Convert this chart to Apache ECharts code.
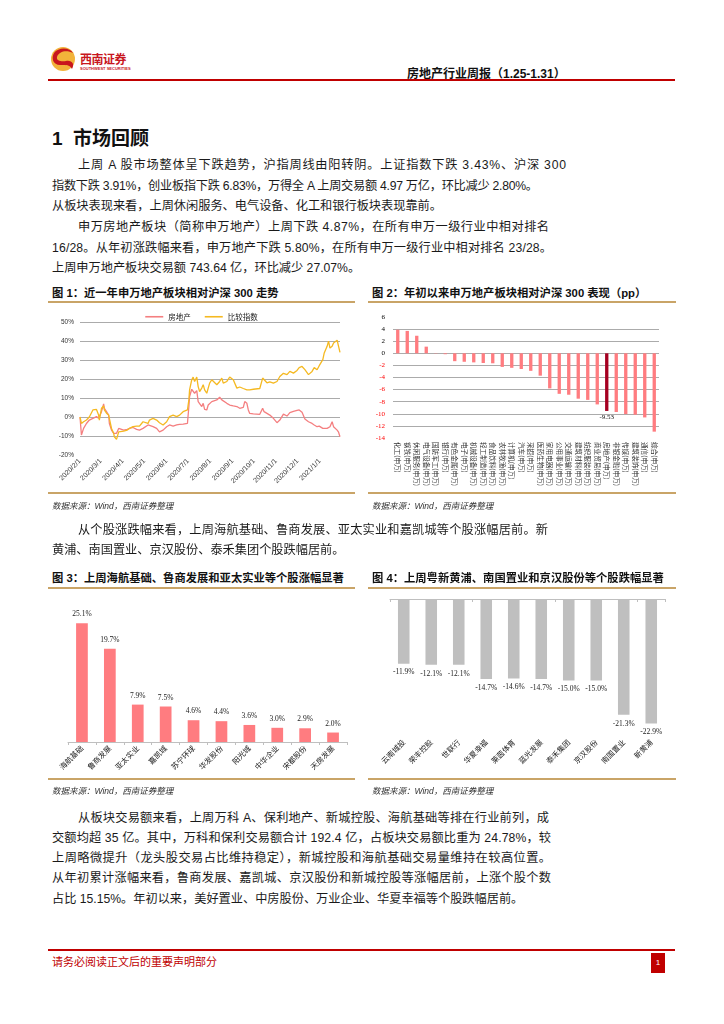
<!DOCTYPE html>
<html><head><meta charset="utf-8">
<script src="https://cdn.jsdelivr.net/npm/echarts@6/dist/echarts.min.js"></script>
<style>
body{margin:0;background:#fff;width:724px;height:1024px;position:relative;overflow:hidden;font-family:"Liberation Sans","Noto Sans CJK SC",sans-serif;color:#1a1a1a;}
.abs{position:absolute;white-space:nowrap;}
.ln{position:absolute;font-size:12.2px;height:16px;line-height:16px;white-space:nowrap;}
.ft{position:absolute;font-size:11.3px;font-weight:bold;white-space:nowrap;color:#111;}
.src{position:absolute;font-size:8.5px;font-style:italic;white-space:nowrap;color:#333;}
.tan{position:absolute;height:2px;background:#C9A467;}
.chart{position:absolute;}
</style></head>
<body>
<!-- header -->
<svg class="abs" style="left:50px;top:44px" width="28" height="30" viewBox="0 0 28 30">
  <circle cx="13" cy="15" r="12" fill="#F2B33A"/>
  <path d="M4 9 C8 3,20 3,23 9 C17 6,9 7,7 13 C6 17,12 18,16 17 C22 16,25 20,22 25 C20 20,14 21,10 21 C3 21,1 14,4 9Z" fill="#C8161D"/>
</svg>
<div class="abs" style="left:80px;top:50px;font-size:12px;font-weight:bold;color:#C8161D;font-family:'Noto Sans CJK SC';letter-spacing:-0.5px">西南证券</div>
<div class="abs" style="left:80px;top:66px;font-size:4px;color:#C8161D;font-weight:bold">SOUTHWEST SECURITIES</div>
<div class="abs" style="left:407px;top:64px;font-size:12px;font-weight:bold;color:#111">房地产行业周报（1.25-1.31）</div>
<div class="abs" style="left:48px;top:79px;width:627px;height:2px;background:#C00000"></div>

<div class="abs" style="left:52px;top:123px;font-size:19px;font-weight:bold;color:#111">1&nbsp;&nbsp;市场回顾</div>

<div class="ln fit" data-w="488" style="left:78px;top:157px">上周 A 股市场整体呈下跌趋势，沪指周线由阳转阴。上证指数下跌 3.43%、沪深 300</div>
<div class="ln fit" data-w="486" style="left:52px;top:178px">指数下跌 3.91%，创业板指下跌 6.83%，万得全 A 上周交易额 4.97 万亿，环比减少 2.80%。</div>
<div class="ln" style="left:52px;top:198px">从板块表现来看，上周休闲服务、电气设备、化工和银行板块表现靠前。</div>

<div class="ln fit" data-w="471" style="left:78px;top:219px">申万房地产板块（简称申万地产）上周下跌 4.87%，在所有申万一级行业中相对排名</div>
<div class="ln fit" data-w="500" style="left:52px;top:240px">16/28。从年初涨跌幅来看，申万地产下跌 5.80%，在所有申万一级行业中相对排名 23/28。</div>
<div class="ln" style="left:52px;top:260px">上周申万地产板块交易额 743.64 亿，环比减少 27.07%。</div>

<!-- fig 1/2 titles -->
<div class="ft" style="left:52px;top:284px">图 1：近一年申万地产板块相对沪深 300 走势</div>
<div class="ft" style="left:372px;top:284px">图 2：年初以来申万地产板块相对沪深 300 表现（pp）</div>
<div class="tan" style="left:48px;top:301px;width:307px"></div>
<div class="tan" style="left:368px;top:301px;width:308px"></div>
<div id="c1" class="chart" style="left:48px;top:303px;width:307px;height:190px"></div>
<div id="c2" class="chart" style="left:368px;top:303px;width:308px;height:190px"></div>
<div class="tan" style="left:48px;top:492px;width:307px"></div>
<div class="tan" style="left:368px;top:492px;width:308px"></div>
<div class="src" style="left:52px;top:499px">数据来源：Wind，西南证券整理</div>
<div class="src" style="left:372px;top:499px">数据来源：Wind，西南证券整理</div>

<div class="ln fit" data-w="470" style="left:78px;top:522px">从个股涨跌幅来看，上周海航基础、鲁商发展、亚太实业和嘉凯城等个股涨幅居前。新</div>
<div class="ln" style="left:52px;top:542px">黄浦、南国置业、京汉股份、泰禾集团个股跌幅居前。</div>

<div class="ft" style="left:52px;top:569px">图 3：上周海航基础、鲁商发展和亚太实业等个股涨幅显著</div>
<div class="ft" style="left:372px;top:569px">图 4：上周粤新黄浦、南国置业和京汉股份等个股跌幅显著</div>
<div class="tan" style="left:48px;top:587px;width:307px"></div>
<div class="tan" style="left:368px;top:587px;width:308px"></div>
<div id="c3" class="chart" style="left:48px;top:589px;width:307px;height:190px"></div>
<div id="c4" class="chart" style="left:368px;top:589px;width:308px;height:190px"></div>
<div class="tan" style="left:48px;top:778px;width:307px"></div>
<div class="tan" style="left:368px;top:778px;width:308px"></div>
<div class="src" style="left:52px;top:784px">数据来源：Wind，西南证券整理</div>
<div class="src" style="left:372px;top:784px">数据来源：Wind，西南证券整理</div>

<div class="ln fit" data-w="471" style="left:78px;top:810px">从板块交易额来看，上周万科 A、保利地产、新城控股、海航基础等排在行业前列，成</div>
<div class="ln fit" data-w="499" style="left:52px;top:830px">交额均超 35 亿。其中，万科和保利交易额合计 192.4 亿，占板块交易额比重为 24.78%，较</div>
<div class="ln fit" data-w="499" style="left:52px;top:850px">上周略微提升（龙头股交易占比维持稳定），新城控股和海航基础交易量维持在较高位置。</div>
<div class="ln fit" data-w="499" style="left:52px;top:870px">从年初累计涨幅来看，鲁商发展、嘉凯城、京汉股份和新城控股等涨幅居前，上涨个股个数</div>
<div class="ln" style="left:52px;top:891px">占比 15.15%。年初以来，美好置业、中房股份、万业企业、华夏幸福等个股跌幅居前。</div>

<!-- footer -->
<div class="abs" style="left:48px;top:949px;width:627px;height:2px;background:#C00000"></div>
<div class="abs" style="left:52px;top:953px;font-size:11px;color:#C00000">请务必阅读正文后的重要声明部分</div>
<div class="abs" style="left:651px;top:953px;width:14px;height:20px;background:#C00000;color:#fff;font-size:8px;text-align:center;line-height:20px">1</div>

<script>
// ---------- Figure 1 data ----------
const c1Dates = ['2020-02-01','2020-02-03','2020-02-04','2020-02-06','2020-02-10','2020-02-14','2020-02-19','2020-02-24','2020-02-27','2020-02-28',
'2020-03-02','2020-03-05','2020-03-06','2020-03-09','2020-03-12','2020-03-13','2020-03-16','2020-03-19','2020-03-20','2020-03-23','2020-03-26','2020-03-27',
'2020-04-02','2020-04-07','2020-04-10','2020-04-15','2020-04-20','2020-04-24','2020-04-29','2020-05-06','2020-05-08','2020-05-13','2020-05-18','2020-05-22','2020-05-27',
'2020-06-01','2020-06-05','2020-06-10','2020-06-15','2020-06-19','2020-06-24','2020-06-30','2020-07-02','2020-07-03','2020-07-06','2020-07-08','2020-07-10',
'2020-07-13','2020-07-15','2020-07-17','2020-07-20','2020-07-22','2020-07-24','2020-07-27','2020-07-29','2020-07-31','2020-08-03','2020-08-05','2020-08-10',
'2020-08-14','2020-08-17','2020-08-19','2020-08-24','2020-08-28','2020-09-02','2020-09-07','2020-09-09','2020-09-11','2020-09-16','2020-09-18','2020-09-21',
'2020-09-23','2020-09-25','2020-09-30','2020-10-09','2020-10-13','2020-10-15','2020-10-19','2020-10-23','2020-10-28','2020-11-02','2020-11-06','2020-11-11',
'2020-11-16','2020-11-20','2020-11-25','2020-11-30','2020-12-03','2020-12-07','2020-12-11','2020-12-16','2020-12-21','2020-12-24','2020-12-28','2020-12-31',
'2021-01-05','2021-01-07','2021-01-11','2021-01-13','2021-01-15','2021-01-18','2021-01-20','2021-01-22','2021-01-25','2021-01-27','2021-01-29'];
const c1Estate = [0,-9.5,-8.6,-6.0,-3.4,-1.6,-0.7,0.2,-0.7,-1.2,
2.8,6.9,4.6,2.8,1.0,-3.4,-6.9,-8.6,-9.5,-8.6,-6.0,-6.9,
-6.9,-6.5,-6.0,-5.5,-6.5,-6.9,-6.0,-4.2,-4.8,-5.1,-6.0,-7.8,-6.9,
-5.1,-4.2,-4.8,-4.2,-3.9,-3.7,-3.4,5.5,10.8,14.6,15.2,12.5,
13.9,8.1,9.0,5.5,7.2,4.0,3.7,6.3,7.2,8.1,8.1,9.0,
10.4,9.0,8.1,7.2,6.3,5.8,5.5,4.6,4.6,5.1,8.1,7.2,
3.7,1.9,1.6,1.4,4.6,2.8,1.9,1.0,-0.7,-3.0,-1.6,1.5,
0.5,2.3,3.0,3.5,3.7,2.5,-1.0,-2.5,-3.4,-4.2,-5.1,-4.8,
-6.0,-6.9,-6.0,-6.5,-5.1,-2.5,-5.1,-6.0,-6.9,-8.0,-10.4];
const c1Index = [0,-3.4,-3.0,-2.5,-1.6,0.0,3.7,4.0,1.0,-1.6,
4.6,5.8,3.7,2.0,1.0,-0.7,-6.0,-8.6,-10.4,-11.8,-7.8,-8.3,
-7.4,-6.9,-6.0,-5.1,-4.8,-4.8,-2.5,-3.4,-1.6,-0.7,-1.6,-3.0,-4.2,
-2.5,0.2,1.0,0.2,1.0,2.8,3.7,9.0,14.3,19.6,21.0,18.7,
21.0,16.0,13.4,15.2,17.0,14.3,12.5,15.2,17.8,19.6,18.7,17.0,
18.7,20.5,17.8,18.7,21.0,19.6,15.2,15.2,15.8,15.0,14.3,14.3,
14.6,14.3,14.6,15.0,20.5,19.6,18.0,18.5,17.8,18.7,21.3,23.0,
22.3,24.0,23.1,24.5,26.0,26.6,24.9,22.3,24.0,26.0,24.9,27.0,
30.2,33.7,37.2,39.9,36.3,37.2,39.0,39.9,40.4,37.2,34.0];
const c1YMin = -20, c1YMax = 50, c1YStep = 10;
const c1XMin = '2020-02-01', c1XMax = '2021-01-29';
const c1Names = ['房地产','比较指数'];

// ---------- Figure 2 data ----------
const c2Industries = ['化工(申万)','钢铁(申万)','休闲服务(申万)','电气设备(申万)','国防军工(申万)','银行(申万)','有色金属(申万)','电子(申万)',
'机械设备(申万)','轻工制造(申万)','食品饮料(申万)','农林牧渔(申万)','计算机(申万)','汽车(申万)','采掘(申万)','医药生物(申万)','家用电器(申万)',
'公用事业(申万)','交通运输(申万)','建筑材料(申万)','纺织服装(申万)','商业贸易(申万)','房地产(申万)','非银金融(申万)','传媒(申万)',
'建筑装饰(申万)','通信(申万)','综合(申万)'];
const c2Values = [3.9,3.7,2.9,1.1,0.05,-0.15,-1.3,-1.4,-1.5,-1.6,-1.65,-2.25,-2.4,-2.6,-2.9,-3.7,-5.8,-6.7,-6.85,-7.5,-7.7,-8.45,-9.53,-9.7,-10.05,-10.15,-10.6,-12.95];
const c2Highlight = '房地产(申万)';
const c2YMin = -14, c2YMax = 6, c2YStep = 2;

// ---------- Figure 3 data ----------
const c3Stocks = ['海航基础','鲁商发展','亚太实业','嘉凯城','苏宁环球','华发股份','阳光城','中华企业','宋都股份','天房发展'];
const c3Values = [25.1,19.7,7.9,7.5,4.6,4.4,3.6,3.0,2.9,2.0];

// ---------- Figure 4 data ----------
const c4Stocks = ['云南城投','荣丰控股','世联行','华夏幸福','莱茵体育','蓝光发展','泰禾集团','京汉股份','南国置业','新黄浦'];
const c4Values = [-11.9,-12.1,-12.1,-14.7,-14.6,-14.7,-15.0,-15.0,-21.3,-22.9];

// fit justified text lines to their measured width
document.querySelectorAll('.fit').forEach(function(el){
  const target = Number(el.getAttribute('data-w'));
  const n = Array.from(el.textContent).length;
  const w = el.getBoundingClientRect().width;
  el.style.letterSpacing = ((target - w) / (n - 1)) + 'px';
});

const RED = '#F47F80', GOLD = '#F5B921', GRID = '#ABABAB';
const NUMFONT = "'Liberation Serif','Noto Sans CJK SC',serif";
function gridColors(n, hideFirst, hideLast){
  const a=[]; for(let i=0;i<n;i++){a.push((i===0&&hideFirst)||(i===n-1&&hideLast)?'rgba(0,0,0,0)':GRID);} return a;
}

// Figure 1
const ch1 = echarts.init(document.getElementById('c1'));
ch1.setOption({
  animation:false,
  legend:{top:5,left:'center',icon:'rect',itemWidth:18,itemHeight:1.6,itemGap:14,
    textStyle:{fontSize:7.5,color:'#222',fontFamily:'Noto Sans CJK SC'},data:c1Names},
  grid:{left:32,right:15,top:19,bottom:38},
  xAxis:{type:'time',min:c1XMin,max:c1XMax,minInterval:28*864e5,maxInterval:31*864e5,
    axisLine:{show:false,onZero:false},axisTick:{show:false},splitLine:{show:false},
    axisLabel:{rotate:45,fontSize:7,color:'#333',margin:5,hideOverlap:false,fontFamily:"'Liberation Sans'",
      formatter:function(v){const d=new Date(v);return d.getFullYear()+'/'+(d.getMonth()+1)+'/'+d.getDate();}}},
  yAxis:{type:'value',min:c1YMin,max:c1YMax,interval:c1YStep,
    axisLine:{show:false},axisTick:{show:false},
    axisLabel:{formatter:'{value}%',fontSize:6.5,color:'#333',margin:6},
    splitLine:{lineStyle:{color:gridColors((c1YMax-c1YMin)/c1YStep+1,true,false),width:1}}},
  series:[
    {name:c1Names[0],type:'line',data:c1Dates.map((d,i)=>[d,c1Estate[i]]),showSymbol:false,
      lineStyle:{color:RED,width:1.3},itemStyle:{color:RED}},
    {name:c1Names[1],type:'line',data:c1Dates.map((d,i)=>[d,c1Index[i]]),showSymbol:false,
      lineStyle:{color:GOLD,width:1.3},itemStyle:{color:GOLD}}
  ]
});

// Figure 2
const ch2 = echarts.init(document.getElementById('c2'));
ch2.setOption({
  animation:false,
  grid:{left:25,right:17,top:14,bottom:55},
  xAxis:{type:'category',data:c2Industries,axisLine:{show:false,onZero:false},axisTick:{show:false},
    axisLabel:{rotate:-90,interval:0,fontSize:6.6,color:'#333',margin:4,fontFamily:'Noto Sans CJK SC'}},
  yAxis:{type:'value',min:c2YMin,max:c2YMax,interval:c2YStep,axisLine:{show:false},axisTick:{show:false},
    axisLabel:{fontSize:7,fontFamily:NUMFONT,margin:8,color:function(v){return Number(v)<0?'#FF0000':'#000';}},
    splitLine:{lineStyle:{color:gridColors((c2YMax-c2YMin)/c2YStep+1,true,true)}}},
  series:[{type:'bar',barWidth:'35%',
    data:c2Values.map((v,i)=>{
      const hl = c2Industries[i]===c2Highlight;
      return {value:v,itemStyle:{color:hl?'#A50021':'#FF7C80'},
        label:{show:hl,position:'bottom',distance:3,formatter:'{c}',fontSize:7,fontFamily:NUMFONT,color:'#111'}};
    })}]
});

// Figure 3
const ch3 = echarts.init(document.getElementById('c3'));
ch3.setOption({
  animation:false,
  grid:{left:20,right:8,top:11,bottom:37},
  xAxis:{type:'category',data:c3Stocks,axisLine:{lineStyle:{color:'#BFBFBF'}},
    axisTick:{show:true,length:3,lineStyle:{color:'#BFBFBF'}},
    axisLabel:{rotate:45,interval:0,fontSize:7.5,color:'#222',margin:5,fontFamily:'Noto Sans CJK SC'}},
  yAxis:{type:'value',min:0,max:30,show:false,splitLine:{show:false}},
  series:[{type:'bar',data:c3Values,barWidth:'42%',itemStyle:{color:'#FF7C80'},
    label:{show:true,position:'top',distance:5,fontSize:7.5,fontFamily:NUMFONT,color:'#222',
      formatter:function(p){return p.value.toFixed(1)+'%';}}}]
});

// Figure 4
const ch4 = echarts.init(document.getElementById('c4'));
ch4.setOption({
  animation:false,
  grid:{left:22,right:11,top:10,bottom:44},
  xAxis:[
    {type:'category',data:c4Stocks,position:'top',axisLine:{onZero:false,lineStyle:{color:'#BFBFBF'}},
      axisTick:{show:true,inside:true,length:3,lineStyle:{color:'#BFBFBF'}},axisLabel:{show:false}},
    {type:'category',data:c4Stocks,position:'bottom',axisLine:{show:false,onZero:false},axisTick:{show:false},
      axisLabel:{rotate:45,interval:0,fontSize:7.5,color:'#222',margin:6,fontFamily:'Noto Sans CJK SC'}}
  ],
  yAxis:{type:'value',min:-25,max:0,show:false,splitLine:{show:false}},
  series:[{type:'bar',xAxisIndex:0,data:c4Values,barWidth:'42%',itemStyle:{color:'#BFBFBF'},
    label:{show:true,position:'bottom',distance:5,fontSize:7.5,fontFamily:NUMFONT,color:'#222',
      formatter:function(p){return p.value.toFixed(1)+'%';}}}]
});
</script>
</body></html>
